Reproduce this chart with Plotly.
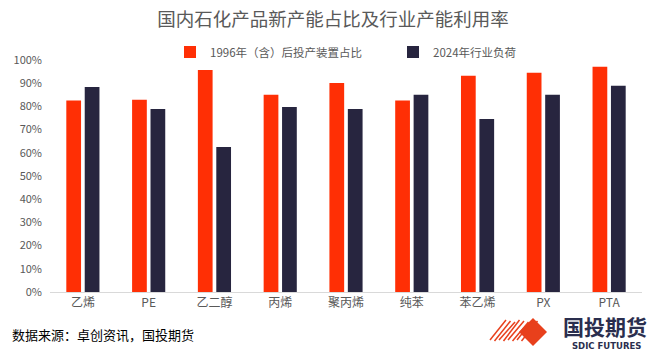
import plotly.graph_objects as go

categories = ["乙烯", "PE", "乙二醇", "丙烯", "聚丙烯", "纯苯", "苯乙烯", "PX", "PTA"]
new_capacity_share = [0.825, 0.829, 0.957, 0.850, 0.901, 0.825, 0.932, 0.945, 0.971]
load_2024 = [0.884, 0.789, 0.625, 0.797, 0.789, 0.850, 0.746, 0.850, 0.889]
series_names = ["1996年（含）后投产装置占比", "2024年行业负荷"]
y_ticks = [i / 10 for i in range(11)]

W, H = 666, 352
ML, MR, MT, MB = 50, 24, 60, 60
PW, PH = W - ML - MR, H - MT - MB


def px(x):
    return (x - ML) / PW


def py(y):
    return (H - MB - y) / PH


FONT = "Noto Sans CJK SC"
RED = "#FF2F05"
NAVY = "#27253F"

fig = go.Figure()
fig.add_trace(go.Bar(x=categories, y=new_capacity_share, name=series_names[0],
                     marker=dict(color=RED, line=dict(width=0))))
fig.add_trace(go.Bar(x=categories, y=load_2024, name=series_names[1],
                     marker=dict(color=NAVY, line=dict(width=0))))

fig.update_layout(
    width=W, height=H,
    margin=dict(l=ML, r=MR, t=MT, b=MB),
    paper_bgcolor="white", plot_bgcolor="white",
    font=dict(family=FONT, color="#595959"),
    barmode="group", bargap=0.44, bargroupgap=0.2,
    title=dict(text="国内石化产品新产能占比及行业产能利用率",
               font=dict(family=FONT, size=18.5, color="#595959"),
               x=0.5, xanchor="center", y=1 - 20 / H, yanchor="middle"),
    legend=dict(orientation="h", x=px(170), xanchor="left", y=py(52), yanchor="middle",
                font=dict(family=FONT, size=11.5, color="#595959"),
                itemwidth=30, entrywidth=178, entrywidthmode="pixels",
                bgcolor="rgba(0,0,0,0)"),
    showlegend=True,
)
fig.update_xaxes(showgrid=False, showline=True, linecolor="#D9D9D9", linewidth=1,
                 ticks="", tickfont=dict(family=FONT, size=12, color="#595959"))
fig.update_yaxes(range=[0, 1], tickvals=y_ticks, tickformat=".0%", showgrid=False,
                 showline=False, zeroline=False, ticks="", ticklabelstandoff=7,
                 tickfont=dict(family=FONT, size=11, color="#595959"))

fig.add_annotation(text="数据来源：卓创资讯，国投期货", xref="paper", yref="paper",
                   x=px(10), y=py(334), xanchor="left", yanchor="middle", showarrow=False,
                   font=dict(family=FONT, size=13, color="#000000"))

# logo
fig.add_annotation(text="<b>国投期货</b>", xref="paper", yref="paper",
                   x=px(605), y=py(326), xanchor="center", yanchor="middle", showarrow=False,
                   font=dict(family=FONT, size=21, color="#2A2E4E"))
fig.add_annotation(text="<b>SDIC FUTURES</b>", xref="paper", yref="paper",
                   x=px(606), y=py(345.5), xanchor="center", yanchor="middle", showarrow=False,
                   font=dict(family="DejaVu Sans", size=8.5, color="#2A2E4E"))
cx, cy, r = 533, 332, 14
fig.add_shape(type="path", xref="paper", yref="paper",
              path=f"M {px(cx - r)},{py(cy)} L {px(cx)},{py(cy - r)} L {px(cx + r)},{py(cy)} L {px(cx)},{py(cy + r)} Z",
              fillcolor="#E8401C", line=dict(width=0))
for k in range(8):
    x0 = 490 + k * 4.5
    fig.add_shape(type="line", xref="paper", yref="paper",
                  x0=px(x0), y0=py(340 + (k % 2)), x1=px(x0 + 16), y1=py(320 + (k % 3)),
                  line=dict(color="#E8401C", width=1.5))

fig.write_html("out.html")
